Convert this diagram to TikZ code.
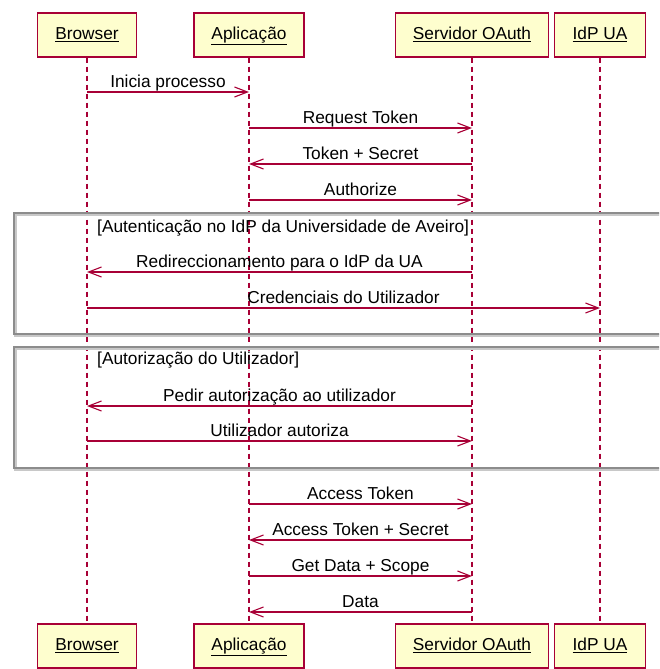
\documentclass[tikz,border=0pt]{standalone}
\usepackage{fontspec}
\setmainfont{Liberation Sans}
\usetikzlibrary{arrows.meta}
\definecolor{uml}{HTML}{A80036}
\definecolor{pfill}{HTML}{FEFECE}
\definecolor{frameline}{HTML}{8C8C8C}
\definecolor{frameshadow}{HTML}{C8C8C8}
\begin{document}
\begin{tikzpicture}[x=1pt,y=-1pt,
  every node/.style={font=\fontsize{17.3}{20}\selectfont, inner sep=0pt},
  pbox/.style={draw=uml, line width=1.4pt, fill=pfill, minimum height=44pt,
    text height=12.5pt, text depth=3.5pt},
  life/.style={draw=uml, line width=1.2pt, dash pattern=on 5pt off 4pt},
  msg/.style={draw=uml, line width=1.1pt, -{Straight Barb[length=13pt,width=10pt,line width=1.1pt]}},
  lbl/.style={anchor=base, yshift=4.5pt},
  grp/.style={draw=frameline, line width=1.6pt},
  grpshadow/.style={draw=frameshadow, line width=3.2pt},
  glbl/.style={anchor=base west}]
\useasboundingbox (0,0) rectangle (659,669);
\clip (0,0) rectangle (659,669);

% participants, top row
\node[pbox, minimum width=99pt]  (b1) at (87,35)  {\underline{Browser}};
\node[pbox, minimum width=110pt] (a1) at (249,35) {\underline{Aplicação}};
\node[pbox, minimum width=153pt] (s1) at (472,35) {\underline{Servidor OAuth}};
\node[pbox, minimum width=91pt]  (i1) at (600,35) {\underline{IdP UA}};
% participants, bottom row
\node[pbox, minimum width=99pt]  (b2) at (87,646)  {\underline{Browser}};
\node[pbox, minimum width=110pt] (a2) at (249,646) {\underline{Aplicação}};
\node[pbox, minimum width=153pt] (s2) at (472,646) {\underline{Servidor OAuth}};
\node[pbox, minimum width=91pt]  (i2) at (600,646) {\underline{IdP UA}};

% lifelines
\draw[life] (b1.south) -- (b2.north);
\draw[life] (a1.south) -- (a2.north);
\draw[life] (s1.south) -- (s2.north);
\draw[life] (i1.south) -- (i2.north);

% group frames
\coordinate (g1a) at (14,213);  \coordinate (g1b) at (680,334);
\coordinate (g2a) at (14,347);  \coordinate (g2b) at (680,468);
\draw[grpshadow] ([shift={(1.5,1.5)}]g1a) rectangle ([shift={(1.5,1.5)}]g1b);
\draw[grp] (g1a) rectangle (g1b);
\draw[grpshadow] ([shift={(1.5,1.5)}]g2a) rectangle ([shift={(1.5,1.5)}]g2b);
\draw[grp] (g2a) rectangle (g2b);
\node[glbl] (g1t) at (97,232) {[Autenticação no IdP da Universidade de Aveiro]};
\node[glbl] (g2t) at (97,364) {[Autorização do Utilizador]};

% messages
\draw[msg] (b1 |- 0,92)  -- (a1 |- 0,92)  node[midway,lbl] {Inicia processo};
\draw[msg] (a1 |- 0,128) -- (s1 |- 0,128) node[midway,lbl] {Request Token};
\draw[msg] (s1 |- 0,164) -- (a1 |- 0,164) node[midway,lbl] {Token + Secret};
\draw[msg] (a1 |- 0,200) -- (s1 |- 0,200) node[midway,lbl] {Authorize};
\draw[msg] (s1 |- 0,272) -- (b1 |- 0,272) node[midway,lbl] {Redireccionamento para o IdP da UA};
\draw[msg] (b1 |- 0,308) -- (i1 |- 0,308) node[midway,lbl] {Credenciais do Utilizador};
\draw[msg] (s1 |- 0,406) -- (b1 |- 0,406) node[midway,lbl] {Pedir autorização ao utilizador};
\draw[msg] (b1 |- 0,441) -- (s1 |- 0,441) node[midway,lbl] {Utilizador autoriza};
\draw[msg] (a1 |- 0,504) -- (s1 |- 0,504) node[midway,lbl] {Access Token};
\draw[msg] (s1 |- 0,540) -- (a1 |- 0,540) node[midway,lbl] {Access Token + Secret};
\draw[msg] (a1 |- 0,576) -- (s1 |- 0,576) node[midway,lbl] {Get Data + Scope};
\draw[msg] (s1 |- 0,612) -- (a1 |- 0,612) node[midway,lbl] {Data};
\end{tikzpicture}
\end{document}
